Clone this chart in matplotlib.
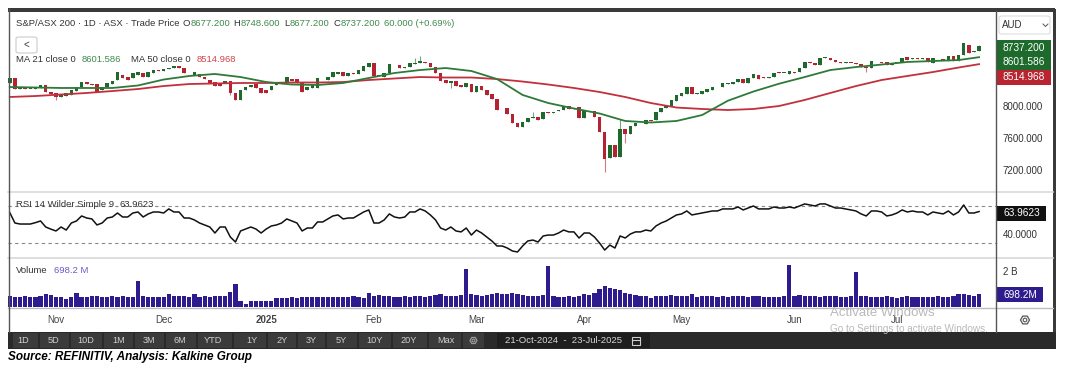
"""S&P/ASX 200 daily chart: candles with MA 21/50, RSI 14 and volume.

Run: python plot.py
Outputs: out.png
"""
from __future__ import annotations

import matplotlib

matplotlib.use("Agg")
import matplotlib.pyplot as plt
import numpy as np
import pandas as pd
from matplotlib.lines import Line2D
from matplotlib.patches import Circle, FancyBboxPatch, Rectangle, RegularPolygon

_W, _H = 1069, 370
_OUTPUT_PATH = "out.png"

# ---- data -------------------------------------------------------------------
START, END = "2024-10-21", "2025-07-23"
ASX_HOLIDAYS = ["2024-12-25", "2024-12-26", "2025-01-01", "2025-01-27",
                "2025-04-18", "2025-04-21", "2025-04-25", "2025-06-09"]

OPEN = [
    8281, 8343, 8206, 8219, 8206, 8212, 8219, 8256, 8169, 8157,
    8107, 8119, 8132, 8181, 8231, 8293, 8268, 8268, 8194, 8231,
    8268, 8318, 8380, 8355, 8343, 8380, 8405, 8355, 8405, 8442,
    8430, 8455, 8473, 8492, 8467, 8405, 8380, 8393, 8355, 8318,
    8293, 8281, 8281, 8306, 8157, 8070, 8194, 8231, 8268, 8219,
    8194, 8194, 8256, 8281, 8281, 8330, 8330, 8281, 8194, 8219,
    8219, 8343, 8318, 8355, 8393, 8417, 8368, 8405, 8393, 8430,
    8480, 8529, 8368, 8355, 8405, 8517, 8504, 8473, 8480, 8523,
    8529, 8542, 8529, 8480, 8405, 8318, 8281, 8306, 8256, 8231,
    8268, 8169, 8244, 8194, 8144, 8082, 7958, 7970, 7896, 7784,
    7734, 7796, 7852, 7859, 7834, 7921, 7914, 7933, 7945, 7995,
    7964, 7983, 7846, 7933, 7933, 7859, 7672, 7349, 7511, 7362,
    7709, 7647, 7747, 7784, 7772, 7815, 7821, 7921, 7970, 7995,
    8057, 8119, 8144, 8231, 8150, 8144, 8169, 8194, 8225, 8231,
    8274, 8268, 8293, 8330, 8281, 8343, 8380, 8355, 8349, 8355,
    8417, 8405, 8393, 8417, 8417, 8467, 8542, 8529, 8504, 8597,
    8591, 8566, 8542, 8535, 8535, 8529, 8517, 8480, 8467, 8554,
    8542, 8542, 8504, 8535, 8542, 8604, 8585, 8591, 8585, 8591,
    8529, 8579, 8573, 8554, 8616, 8554, 8629, 8753, 8660, 8677.2,
]
CLOSE = [
    8343, 8206, 8219, 8206, 8212, 8219, 8250, 8169, 8144, 8107,
    8144, 8157, 8194, 8231, 8293, 8268, 8262, 8169, 8231, 8281,
    8306, 8417, 8343, 8318, 8405, 8417, 8355, 8417, 8442, 8424,
    8455, 8473, 8486, 8473, 8405, 8399, 8417, 8355, 8330, 8281,
    8244, 8244, 8306, 8157, 8070, 8194, 8231, 8256, 8219, 8157,
    8157, 8244, 8281, 8274, 8355, 8306, 8281, 8169, 8231, 8256,
    8343, 8337, 8355, 8417, 8417, 8368, 8405, 8393, 8442, 8492,
    8529, 8368, 8380, 8405, 8517, 8511, 8467, 8480, 8529, 8529,
    8554, 8529, 8480, 8405, 8306, 8281, 8306, 8244, 8231, 8281,
    8169, 8244, 8194, 8132, 8082, 7945, 7952, 7896, 7784, 7734,
    7796, 7846, 7859, 7821, 7921, 7914, 7921, 7945, 7995, 7958,
    7970, 7846, 7933, 7927, 7859, 7672, 7337, 7511, 7362, 7709,
    7647, 7747, 7784, 7778, 7821, 7803, 7921, 7970, 8008, 8070,
    8132, 8157, 8231, 8144, 8157, 8181, 8206, 8231, 8231, 8281,
    8281, 8293, 8330, 8281, 8343, 8393, 8330, 8349, 8355, 8405,
    8411, 8411, 8430, 8405, 8467, 8542, 8529, 8504, 8591, 8604,
    8566, 8542, 8535, 8542, 8529, 8523, 8480, 8467, 8554, 8548,
    8535, 8504, 8529, 8542, 8591, 8566, 8591, 8579, 8591, 8542,
    8591, 8573, 8566, 8616, 8554, 8629, 8778, 8653, 8677.2, 8737.2,
]
HIGH_WICKS = {79: 8591, 80: 8616, 102: 7921, 119: 7834, 189: 8748.6}
LOW_WICKS = {9: 8070, 43: 8132, 86: 8219, 116: 7175, 120: 7536, 167: 8417}

MA_DAYS = list(range(0, 186, 5)) + [189]
MA21 = [8231, 8225, 8219, 8219, 8219, 8250, 8324, 8368, 8393, 8355,
        8293, 8262, 8256, 8281, 8343, 8405, 8442, 8467, 8430, 8330,
        8132, 8032, 7964, 7902, 7809, 7790, 7809, 7883, 8060, 8175,
        8272, 8355, 8442, 8479, 8510, 8542, 8554, 8566, 8601.586]
MA50 = [8107, 8119, 8138, 8157, 8181, 8206, 8243, 8268, 8275, 8281,
        8281, 8287, 8287, 8293, 8318, 8337, 8355, 8349, 8349, 8330,
        8299, 8262, 8219, 8169, 8107, 8032, 7976, 7958, 7945, 7958,
        7995, 8070, 8157, 8243, 8318, 8368, 8417, 8473, 8514.968]

RSI = [
    62.8, 51.6, 50.5, 50.5, 50.5, 52.0, 53.8, 47.3, 45.0, 43.0,
    47.3, 44.0, 51.6, 53.8, 59.2, 57.0, 56.0, 49.5, 51.6, 57.0,
    58.1, 62.4, 58.1, 58.1, 62.4, 63.5, 58.1, 61.4, 63.5, 63.5,
    62.4, 66.8, 63.5, 63.5, 57.0, 57.0, 54.9, 51.6, 49.5, 47.3,
    40.8, 47.3, 47.3, 36.5, 31.1, 43.0, 45.1, 47.3, 45.1, 40.8,
    45.1, 48.4, 49.5, 51.6, 56.0, 53.8, 51.6, 43.0, 46.2, 46.2,
    52.7, 52.7, 56.0, 59.2, 60.3, 56.0, 57.0, 57.0, 60.3, 63.5,
    65.7, 51.6, 51.6, 54.9, 61.4, 58.1, 57.0, 58.0, 63.5, 63.5,
    66.8, 64.6, 60.3, 55.0, 46.2, 44.0, 47.3, 43.0, 42.0, 46.2,
    38.6, 44.0, 40.8, 36.5, 32.2, 26.8, 26.8, 24.6, 21.4, 20.3,
    26.8, 32.2, 33.2, 31.1, 37.6, 38.6, 38.6, 40.8, 44.0, 42.0,
    42.0, 35.4, 40.8, 40.8, 36.5, 30.0, 22.4, 27.8, 24.6, 37.6,
    35.4, 39.7, 42.0, 42.0, 44.0, 43.0, 48.4, 51.6, 53.8, 57.0,
    60.3, 61.4, 64.6, 60.3, 61.4, 62.4, 63.5, 64.6, 64.6, 66.8,
    66.8, 66.8, 68.9, 65.7, 67.8, 70.0, 66.8, 66.8, 66.8, 68.9,
    67.8, 67.8, 68.9, 67.8, 70.0, 72.2, 71.1, 70.0, 72.2, 72.2,
    70.0, 67.8, 67.8, 66.8, 65.7, 64.6, 61.4, 59.2, 64.6, 64.6,
    63.5, 59.2, 60.3, 62.4, 65.7, 63.5, 64.6, 63.5, 63.5, 60.3,
    63.5, 62.4, 61.4, 64.6, 60.3, 63.5, 71.1, 62.4, 62.4, 63.9623,
]

VOLUME_M = [
    600, 565, 540, 620, 545, 550, 600, 715, 690, 580,
    560, 440, 560, 790, 580, 575, 620, 600, 570, 570,
    600, 575, 600, 570, 580, 1460, 600, 560, 570, 580,
    550, 700, 600, 590, 600, 560, 700, 580, 610, 560,
    600, 590, 620, 820, 1270, 350, 150, 310, 320, 330,
    330, 330, 480, 500, 520, 540, 520, 540, 560, 540,
    540, 550, 545, 540, 560, 540, 545, 600, 560, 520,
    770, 620, 650, 630, 600, 560, 580, 600, 560, 600,
    620, 580, 600, 650, 700, 620, 640, 600, 680, 2110,
    700, 650, 620, 680, 720, 800, 700, 750, 800, 720,
    680, 640, 620, 600, 650, 2280, 600, 560, 580, 620,
    560, 640, 700, 650, 800, 1000, 1150, 1050, 1000, 950,
    800, 700, 650, 600, 620, 480, 600, 620, 600, 650,
    620, 600, 640, 700, 580, 600, 620, 600, 580, 600,
    560, 600, 620, 600, 580, 620, 600, 560, 540, 560,
    580, 600, 2340, 620, 650, 600, 640, 620, 560, 600,
    620, 600, 580, 560, 600, 1950, 600, 620, 580, 560,
    560, 600, 540, 520, 560, 600, 580, 540, 560, 580,
    560, 600, 540, 580, 620, 700, 750, 680, 600, 698.2,
]

PRICE_TICKS = [7200, 7600, 8000]
TOOLBAR_LABELS = ["1D", "5D", "10D", "1M", "3M", "6M", "YTD", "1Y", "2Y",
                  "3Y", "5Y", "10Y", "20Y", "Max"]

# ---- style ------------------------------------------------------------------
UP = "#1d6a2c"
DOWN = "#b52231"
MA21_COLOR = "#2e7a38"
MA50_COLOR = "#c3303d"
VOL_COLOR = "#2e1c8e"
TEXT = "#333333"
GREEN_TXT = "#3f8a4e"
RED_TXT = "#d2434c"
FRAME = "#3a3a3a"

plt.rcParams["font.family"] = ["Liberation Sans", "DejaVu Sans"]


def fx(x: float) -> float:
    return x / _W


def fy(y: float) -> float:
    return 1 - y / _H


def rect(x0, y0, x1, y1):
    return [fx(x0), fy(y1), (x1 - x0) / _W, (y1 - y0) / _H]


def inch(x, y):
    """Pixel position (from top-left) to inches for dpi_scale_trans."""
    return x / 100, (_H - y) / 100


def box(fig, x0, y0, x1, y1, color, **kw):
    fig.add_artist(Rectangle((fx(x0), fy(y1)), (x1 - x0) / _W, (y1 - y0) / _H,
                             transform=fig.transFigure, facecolor=color,
                             edgecolor="none", **kw))


def hline(fig, x0, x1, y, color, lw=1.0):
    fig.add_artist(Line2D([fx(x0), fx(x1)], [fy(y), fy(y)], color=color, lw=lw,
                          transform=fig.transFigure))


def vline(fig, x, y0, y1, color, lw=1.0):
    fig.add_artist(Line2D([fx(x), fx(x)], [fy(y0), fy(y1)], color=color, lw=lw,
                          transform=fig.transFigure))


def gear(fig, x, y, r, color):
    fig.add_artist(RegularPolygon(inch(x, y), 6, radius=r / 100,
                                  orientation=np.pi / 6,
                                  transform=fig.dpi_scale_trans,
                                  facecolor="none", edgecolor=color, lw=0.9))
    fig.add_artist(Circle(inch(x, y), 0.4 * r / 100, transform=fig.dpi_scale_trans,
                          facecolor="none", edgecolor=color, lw=0.8))


def ftext(fig, x, y, s, **kw):
    kw.setdefault("va", "center")
    kw.setdefault("fontsize", 7)
    kw.setdefault("color", TEXT)
    return fig.text(fx(x), fy(y), s, **kw)


def text_run(fig, x, y, parts, size):
    """Lay out (text, colour, gap_px) pieces one after another."""
    renderer = fig.canvas.get_renderer()
    for s, color, gap in parts:
        t = ftext(fig, x, y, s, color=color, fontsize=size)
        x = t.get_window_extent(renderer=renderer).x1 + gap


def clean(ax):
    for side in ax.spines.values():
        side.set_visible(False)
    ax.yaxis.tick_right()
    ax.tick_params(axis="y", length=0, pad=5, labelsize=7, labelcolor=TEXT)
    ax.tick_params(axis="x", length=0)


def draw_price(ax, x):
    o = np.array(OPEN, dtype=float)
    c = np.array(CLOSE, dtype=float)
    colors = np.where(c >= o, UP, DOWN)
    hi = np.maximum(o, c)
    lo = np.minimum(o, c)
    for i, v in HIGH_WICKS.items():
        hi[i] = v
    for i, v in LOW_WICKS.items():
        lo[i] = v
    ax.vlines(x, lo, hi, colors=colors, linewidth=0.8, alpha=0.6)
    ax.bar(x, np.maximum(np.abs(c - o), 9), bottom=np.minimum(o, c), width=0.7,
           color=colors, linewidth=0)
    ax.plot(MA_DAYS, MA50, color=MA50_COLOR, lw=1.3)
    ax.plot(MA_DAYS, MA21, color=MA21_COLOR, lw=1.3)
    ax.set_ylim(6939, 9163)
    ax.set_yticks(PRICE_TICKS)
    ax.set_yticklabels([f"{v:.3f}" for v in PRICE_TICKS])
    ax.tick_params(axis="x", labelbottom=False)


def draw_rsi(ax, x):
    ax.axhline(70, color="#888888", lw=0.8, dashes=(3, 3))
    ax.axhline(30, color="#888888", lw=0.8, dashes=(3, 3))
    ax.plot(x, RSI, color="#111111", lw=1.1)
    ax.set_ylim(14.9, 84.0)
    ax.set_yticks([40])
    ax.set_yticklabels(["40.0000"])
    ax.tick_params(axis="x", labelbottom=False)


def draw_volume(ax, x, dates):
    ax.bar(x, VOLUME_M, width=0.82, color=VOL_COLOR, linewidth=0)
    ax.set_ylim(0, 2730)
    ax.set_yticks([2000])
    ax.set_yticklabels(["2 B"])
    firsts = pd.Series(np.arange(len(dates)), index=dates)
    firsts = firsts.groupby(dates.to_period("M")).first().iloc[1:]
    labels = ["2025" if p.month == 1 else p.strftime("%b") for p in firsts.index]
    ax.set_xticks(firsts.values)
    ax.set_xticklabels(labels)
    ax.tick_params(axis="x", pad=6, labelsize=7, labelcolor="#444444")
    for lab in ax.get_xticklabels():
        if lab.get_text() == "2025":
            lab.set_fontweight("bold")


def draw_labels(fig):
    o, c = OPEN[-1], CLOSE[-1]
    change = c - CLOSE[-2]
    pct = change / CLOSE[-2] * 100
    text_run(fig, 16, 24, [
        ("S&P/ASX 200 · 1D · ASX · Trade Price", TEXT, 3),
        ("O", TEXT, 0.5), (f"{o:.3f}", GREEN_TXT, 3.5),
        ("H", TEXT, 0.5), (f"{HIGH_WICKS[189]:.3f}", GREEN_TXT, 3.5),
        ("L", TEXT, 0.5), (f"{o:.3f}", GREEN_TXT, 3.5),
        ("C", TEXT, 0.5), (f"{c:.3f}", GREEN_TXT, 4),
        (f"{change:.3f} ({pct:+.2f}%)", GREEN_TXT, 0),
    ], 6.8)
    fig.add_artist(FancyBboxPatch((fx(16), fy(53)), 21 / _W, 16 / _H,
                                  boxstyle="round,pad=0,rounding_size=0.004",
                                  transform=fig.transFigure, facecolor="white",
                                  edgecolor="#cccccc", lw=0.8))
    ftext(fig, 26.5, 44.5, "<", ha="center", fontsize=7)
    text_run(fig, 16, 60, [
        ("MA 21 close 0", TEXT, 6), (f"{MA21[-1]:.3f}", GREEN_TXT, 10),
        ("MA 50 close 0", TEXT, 6), (f"{MA50[-1]:.3f}", RED_TXT, 0),
    ], 6.8)
    text_run(fig, 16, 204.5, [
        ("RSI 14 Wilder Simple 9", TEXT, 5), (f"{RSI[-1]:.4f}", TEXT, 0),
    ], 6.8)
    text_run(fig, 16, 270.5, [
        ("Volume", TEXT, 6), (f"{VOLUME_M[-1]:.1f} M", "#6a5cc6", 0),
    ], 6.8)


def draw_chrome(fig):
    # panel separators and frame
    for y in (192, 257.5):
        hline(fig, 8, 1053, y, "#d9d9d9", lw=1.2)
    hline(fig, 8, 1053, 307.5, "#bdbdbd", lw=1.0)
    vline(fig, 996.5, 11, 332, "#555555", lw=1.0)
    vline(fig, 8.5, 9, 332, "#555555", lw=1.0)
    box(fig, 8, 8.5, 1055, 12, FRAME)
    box(fig, 1052.5, 8.5, 1055.5, 349, FRAME)

    # right column labels
    fig.add_artist(FancyBboxPatch((fx(999), fy(34)), 51 / _W, 18 / _H,
                                  boxstyle="round,pad=0,rounding_size=0.004",
                                  transform=fig.transFigure, facecolor="white",
                                  edgecolor="#dddddd", lw=0.8))
    ftext(fig, 1002, 25, "AUD", fontsize=7)
    fig.add_artist(Line2D([fx(1043), fx(1045.5), fx(1048)], [fy(24), fy(26.5), fy(24)],
                          color="#555555", lw=0.7, transform=fig.transFigure))
    box(fig, 997, 40, 1051, 70, "#1e6a2d")
    box(fig, 997, 70, 1051, 85, "#b8242f")
    ftext(fig, 1024, 48, f"{CLOSE[-1]:.3f}", ha="center", color="white", fontsize=7.3)
    ftext(fig, 1024, 62, f"{MA21[-1]:.3f}", ha="center", color="white", fontsize=7.3)
    ftext(fig, 1024, 77.5, f"{MA50[-1]:.3f}", ha="center", color="white", fontsize=7.3)
    box(fig, 997, 205.5, 1046, 220.5, "#111111")
    ftext(fig, 1021.5, 213, f"{RSI[-1]:.4f}", ha="center", color="white", fontsize=7.3)
    box(fig, 997, 287, 1043, 302, VOL_COLOR)
    ftext(fig, 1020, 294.5, f"{VOLUME_M[-1]:.1f}M", ha="center", color="white",
          fontsize=7.3)
    gear(fig, 1025, 320, 4.5, "#555555")

    # watermark
    ftext(fig, 830, 313.5, "Activate Windows", fontsize=9.5, color="#b9b9b9",
          zorder=10)
    ftext(fig, 830, 329.5, "Go to Settings to activate Windows.", fontsize=7.2,
          color="#b9b9b9", zorder=10)

    # bottom toolbar
    box(fig, 8, 332, 1055.5, 349, "#2a2a2a")
    centers = [23, 54, 86, 119, 149, 180, 213, 252, 282, 311, 341, 375, 409, 446]
    edges = [12] + [(a + b) / 2 for a, b in zip(centers[:-1], centers[1:])] + [462]
    for lab, cx, e0, e1 in zip(TOOLBAR_LABELS, centers, edges[:-1], edges[1:]):
        box(fig, e0 + 1, 333, e1 - 1, 348, "#3b3b3b")
        ftext(fig, cx, 340.5, lab, ha="center", fontsize=6.6, color="#d0d0d0")
    box(fig, 463, 333, 484, 348, "#3b3b3b")
    gear(fig, 473.5, 340.5, 3.5, "#9a9a9a")
    box(fig, 497, 333, 650, 348, "#1e1e1e")
    ftext(fig, 505, 340.5, "21-Oct-2024  -  23-Jul-2025", fontsize=6.8,
          color="#d8d8d8")
    fig.add_artist(Rectangle(inch(632, 345), 0.08, 0.08,
                             transform=fig.dpi_scale_trans, facecolor="none",
                             edgecolor="#cfcfcf", lw=0.8))
    hline(fig, 632, 640, 339.5, "#cfcfcf", lw=0.8)

    ftext(fig, 8, 357, "Source: REFINITIV, Analysis: Kalkine Group", fontsize=8.5,
          fontweight="bold", style="italic", color="black")


def main() -> None:
    dates = pd.bdate_range(START, END).drop(pd.to_datetime(ASX_HOLIDAYS))
    x = np.arange(len(dates))

    fig = plt.figure(figsize=(_W / 100, _H / 100), dpi=100)
    ax_p = fig.add_axes(rect(8, 12, 996, 191))
    ax_r = fig.add_axes(rect(8, 193, 996, 257), sharex=ax_p)
    ax_v = fig.add_axes(rect(8, 258, 996, 307), sharex=ax_p)
    for ax in (ax_p, ax_r, ax_v):
        clean(ax)
    ax_p.set_xlim(-0.35, 192.3)

    draw_price(ax_p, x)
    draw_rsi(ax_r, x)
    draw_volume(ax_v, x, dates)
    draw_chrome(fig)
    draw_labels(fig)

    fig.savefig(_OUTPUT_PATH, dpi=100)


if __name__ == "__main__":
    main()
